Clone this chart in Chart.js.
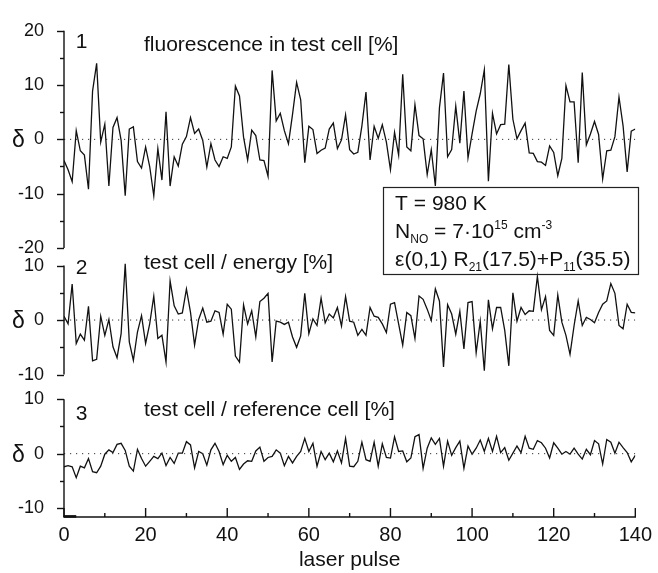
<!DOCTYPE html>
<html><head><meta charset="utf-8">
<script src="https://cdn.jsdelivr.net/npm/chart.js@4.4.0/dist/chart.umd.min.js"></script>
<style>html,body{margin:0;padding:0;background:#fff}canvas{display:block}</style>
</head><body>
<canvas id="c" width="658" height="573"></canvas>
<script>
// ---- data ----
const pulse = Array.from({length: 141}, (_, i) => i); // laser pulse number 0..140

const fluorescence = [
 -3.9,-5.6,-7.8,1.6,-2.1,-2.9,-9.2,8.9,14.0,-0.5,
 2.8,-8.6,2.2,4.0,-0.2,-10.4,1.9,2.3,-4.1,-5.3,
 -1.4,-5.0,-10.4,-1.7,-7.5,5.1,-8.6,-3.2,-4.9,-0.9,
 0.5,4.0,1.1,1.9,-0.2,-5.1,-0.8,-3.8,-5.0,-3.2,
 -3.5,-1.4,9.8,8.0,0.4,-3.8,1.7,0.7,-3.8,-3.9,
 -6.8,12.7,3.4,4.8,1.6,-0.8,4.6,10.5,7.3,-4.3,
 2.4,1.8,-2.6,-2.0,-1.6,1.9,3.0,-1.7,-0.1,4.5,
 -1.9,-2.7,-2.4,2.5,8.7,-3.8,2.4,0.2,2.7,-0.5,
 -5.6,1.3,-2.9,12.0,-1.4,-2.1,6.4,0.7,0.1,-6.5,
 -1.9,-8.6,5.8,12.2,-3.2,-1.9,6.1,-0.7,8.9,-3.4,
 1.0,5.2,8.4,12.8,-7.7,4.8,1.0,2.7,2.8,13.8,
 3.7,0.1,1.6,3.0,-2.5,-2.6,-4.1,-4.2,-4.8,-1.2,
 -2.4,-6.7,-3.5,9.9,6.9,6.9,-4.3,12.3,-1.0,1.0,
 3.3,0.9,-7.3,-2.1,-2.0,0.5,7.8,2.5,-6.0,1.5,1.9
];
const perEnergy = [
 0.7,-0.7,6.6,-4.3,-2.6,-3.7,2.5,-7.5,-7.2,0.7,
 -2.8,0.1,-4.9,-6.9,-2.5,10.3,-4.0,-7.4,-2.2,0.8,
 -4.3,-0.7,4.4,-3.4,-2.8,-7.7,7.2,2.6,1.1,1.3,
 5.7,1.4,-4.6,0.1,2.2,-0.4,-0.2,1.7,1.4,-2.6,
 2.9,2.0,-6.6,-7.7,2.8,-0.7,1.7,-3.1,3.4,4.0,
 4.9,-7.7,-0.2,-0.4,-0.8,-0.4,-3.1,-5.0,-2.9,4.9,
 -2.5,0.2,-1.0,4.0,-0.5,1.1,0.4,2.3,-1.1,4.3,
 -0.2,-0.4,-2.8,-1.7,-2.8,2.3,0.7,0.5,-0.7,-2.3,
 2.9,3.2,-0.7,-4.6,1.4,0.8,-3.4,4.4,3.8,2.0,
 -0.1,5.7,3.5,-8.6,2.8,1.1,-2.6,1.6,-5.3,3.2,
 3.4,-6.0,-0.2,-9.3,3.7,-1.6,2.3,2.3,-1.9,-8.4,
 5.0,-0.2,2.3,1.0,1.7,1.6,8.0,1.9,4.3,-1.9,
 -2.8,4.6,-0.4,-2.8,-6.3,-1.0,3.5,-1.0,0.5,0.1,
 -0.5,1.4,2.9,3.5,6.7,4.9,-1.0,-1.6,2.9,1.4,1.3
];
const perReference = [
 -2.4,-2.2,-2.4,-4.4,-2.3,-2.6,-0.9,-3.3,-3.5,-2.3,
 -0.1,0.7,0.2,1.7,1.9,0.6,-2.3,-3.2,0.8,-0.9,
 -2.3,-1.4,-0.5,-0.9,0.1,-2.2,-0.7,-1.8,0.1,0.1,
 2.2,1.6,-2.6,0.4,0.0,-2.1,0.7,1.9,0.4,-2.0,
 -0.3,-1.4,-0.7,-2.9,-1.9,-1.3,-1.4,0.5,1.2,-1.4,
 -0.7,-0.5,0.7,0.1,-2.2,-0.5,-1.7,-0.5,0.4,2.8,
 0.4,1.9,-2.3,0.4,-1.1,0.1,-1.5,0.5,-1.7,2.8,
 -2.3,-2.4,-1.4,2.1,-1.1,-1.4,2.1,-2.3,1.8,-0.7,
 -0.8,3.1,0.4,0.5,-1.5,-0.8,3.1,3.5,-2.7,1.0,
 2.9,1.7,2.8,-2.3,2.3,-0.3,1.1,2.3,-2.7,1.4,
 -0.1,1.0,2.5,0.4,2.8,0.4,3.2,0.2,1.1,-1.2,
 0.1,1.4,0.2,3.2,1.0,0.8,2.4,2.0,1.0,-0.8,
 2.0,1.0,-0.1,0.4,-0.1,1.0,-0.1,-1.0,0.8,-0.2,
 2.4,1.8,-1.9,2.6,2.1,0.1,2.1,1.1,0.2,-1.5,-0.3
];

const xTicks = [0, 20, 40, 60, 80, 100, 120, 140];
const xMinorTicks = [10, 30, 50, 70, 90, 110, 130];
const yTicks1 = [-20, -10, 0, 10, 20];
const yMinor1 = [-15, -5, 5, 15];
const yTicks2 = [-10, 0, 10];
const yMinor2 = [-5, 5];
const yTicks3 = [-10, 0, 10];
const yMinor3 = [-5, 5];

const panelNumbers = ['1', '2', '3'];
const panelTitles = ['fluorescence in test cell [%]', 'test cell / energy [%]', 'test cell / reference cell [%]'];
const yAxisSymbol = 'δ';
const xAxisTitle = 'laser pulse';

// ---- styling / layout ----
const FAM = '"Liberation Sans", Arial, Helvetica, sans-serif';
const INK = '#111';

const pts = arr => arr.map((v, i) => ({x: pulse[i], y: v}));
const zero = () => [{x: xTicks[0], y: 0}, {x: xTicks[xTicks.length - 1], y: 0}];

function lineDs(arr, axis) {
  return {data: pts(arr), yAxisID: axis, borderColor: INK, borderWidth: 1.3,
          pointRadius: 0, tension: 0, fill: false};
}
function zeroDs(axis) {
  return {data: zero(), yAxisID: axis, borderColor: '#333', borderWidth: 1,
          borderDash: [1.2, 4.8], pointRadius: 0, fill: false};
}
function yScale(min, max, ticks, weight, stackWeight) {
  return {
    type: 'linear', position: 'left', stack: 'panels', stackWeight: stackWeight, weight: weight,
    min: min, max: max,
    grid: {display: false, drawTicks: false}, border: {display: false},
    afterBuildTicks: s => { s.ticks = ticks.map(v => ({value: v})); },
    afterFit: s => { s.width = 64; },
    ticks: {font: {family: FAM, size: 18}, color: INK, padding: 20, autoSkip: false}
  };
}

const panels = [
  {id: 'y1', major: yTicks1, minor: yMinor1},
  {id: 'y2', major: yTicks2, minor: yMinor2},
  {id: 'y3', major: yTicks3, minor: yMinor3}
];

const decor = {
  id: 'decor',
  afterDraw(chart) {
    const ctx = chart.ctx, xs = chart.scales.x;
    const L = xs.getPixelForValue(xTicks[0]);
    const R = xs.getPixelForValue(xTicks[xTicks.length - 1]);
    const base = xs.top;
    ctx.save();
    ctx.strokeStyle = INK; ctx.lineWidth = 1.4; ctx.lineCap = 'butt';
    const seg = (a, b, c, d) => { ctx.beginPath(); ctx.moveTo(a, b); ctx.lineTo(c, d); ctx.stroke(); };
    panels.forEach((p, k) => {
      const s = chart.scales[p.id];
      const top = s.getPixelForValue(p.major[p.major.length - 1]);
      const bot = k === 2 ? base : s.getPixelForValue(p.major[0]);
      seg(L, top, L, bot);
      p.major.forEach(v => { const y = Math.round(s.getPixelForValue(v)) + 0.5; seg(L - 7, y, L, y); });
      p.minor.forEach(v => { const y = Math.round(s.getPixelForValue(v)) + 0.5; seg(L - 4, y, L, y); });
    });
    seg(L - 0.7, base, R + 0.7, base);
    ctx.lineWidth = 2.6;
    seg(L, base - 0.6, xs.getPixelForValue(3), base - 0.6);
    ctx.lineWidth = 1.4;
    xTicks.forEach(v => { const x = xs.getPixelForValue(v); seg(x, base, x, base - 9); });
    xMinorTicks.forEach(v => { const x = xs.getPixelForValue(v); seg(x, base, x, base - 4); });

    // panel labels
    ctx.fillStyle = INK;
    ctx.textBaseline = 'alphabetic';
    const numY = [16.74, 8.38, 6.2];
    const titleY = [16.2, 9.28, 6.94];
    panels.forEach((p, k) => {
      const s = chart.scales[p.id];
      ctx.font = '21px ' + FAM; ctx.textAlign = 'center';
      ctx.fillText(panelNumbers[k], xs.getPixelForValue(4.3), s.getPixelForValue(numY[k]));
      ctx.font = '21px ' + FAM; ctx.textAlign = 'left';
      ctx.fillText(panelTitles[k], xs.getPixelForValue(19.6), s.getPixelForValue(titleY[k]));
      ctx.font = '23px ' + FAM; ctx.textAlign = 'center';
      ctx.fillText(yAxisSymbol, 18.5, s.getPixelForValue(0) + 8);
    });

    // parameter box
    const y1 = chart.scales.y1, y2 = chart.scales.y2;
    const bx0 = xs.getPixelForValue(78.2), bx1 = xs.getPixelForValue(140.7);
    const by0 = y1.getPixelForValue(-8.8), by1 = y2.getPixelForValue(8.35);
    ctx.lineWidth = 1.2; ctx.strokeStyle = '#222';
    ctx.strokeRect(Math.round(bx0) + 0.5, Math.round(by0) + 0.5, Math.round(bx1 - bx0), Math.round(by1 - by0));
    ctx.textAlign = 'left';
    const runs = (x, y, list) => {
      list.forEach(r => {
        ctx.font = r[1] + 'px ' + FAM;
        ctx.fillText(r[0], x, y + (r[2] || 0));
        x += ctx.measureText(r[0]).width;
      });
    };
    const tx = bx0 + 12;
    runs(tx, by0 + 23, [['T = 980 K', 21]]);
    runs(tx, by0 + 51, [['N', 21], ['NO', 12, 5], [' = 7', 21], ['·', 21], ['10', 21], ['15', 12, -9], [' cm', 21], ['-3', 12, -9]]);
    runs(tx, by0 + 79, [['ε(0,1) R', 21], ['21', 12, 5], ['(17.5)+P', 21], ['11', 12, 5], ['(35.5)', 21]]);
    ctx.restore();
  }
};

new Chart(document.getElementById('c'), {
  type: 'line',
  data: {
    datasets: [
      zeroDs('y1'), zeroDs('y2'), zeroDs('y3'),
      lineDs(fluorescence, 'y1'), lineDs(perEnergy, 'y2'), lineDs(perReference, 'y3')
    ]
  },
  options: {
    responsive: false, animation: false,
    layout: {padding: {top: 22, right: 20, bottom: 0, left: 0}},
    plugins: {legend: {display: false}, tooltip: {enabled: false}},
    scales: {
      x: {
        type: 'linear', position: 'bottom', min: xTicks[0], max: xTicks[xTicks.length - 1],
        grid: {display: false, drawTicks: false}, border: {display: false},
        afterBuildTicks: s => { s.ticks = xTicks.map(v => ({value: v})); },
        afterFit: s => { s.height = 56; },
        ticks: {font: {family: FAM, size: 20}, color: INK, padding: 6, autoSkip: false, maxRotation: 0},
        title: {display: true, text: xAxisTitle, font: {family: FAM, size: 21}, color: INK, padding: {top: 0, bottom: 0}}
      },
      y1: yScale(-21.62, 20, yTicks1, 3, 230),
      y2: yScale(-12.17, 11.62, yTicks2, 2, 132),
      y3: yScale(-11.62, 12.35, yTicks3, 1, 133)
    }
  },
  plugins: [decor]
});
</script>
</body></html>
